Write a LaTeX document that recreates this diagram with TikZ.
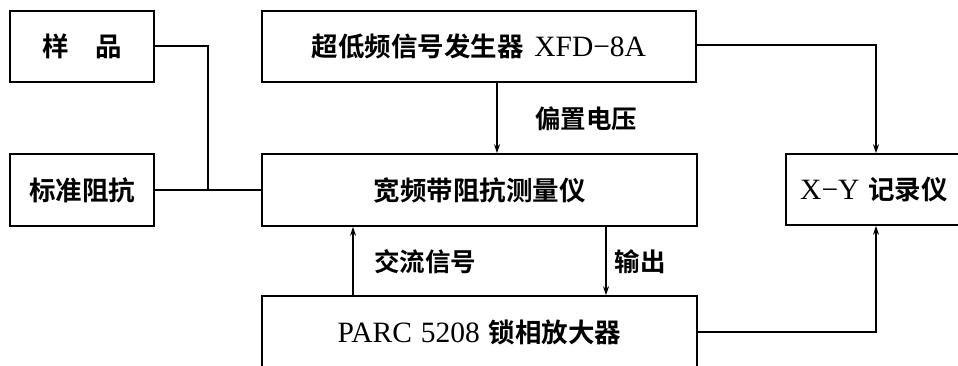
\documentclass[tikz,border=0pt]{standalone}
\usepackage{fontspec}
\setmainfont{Liberation Serif}
\newfontfamily\cjk{Noto Sans CJK SC}[BoldFont={Noto Sans CJK SC Bold}]
\newcommand{\zh}[1]{{\cjk\bfseries\fontsize{26.5}{30}\selectfont #1}}
\usetikzlibrary{arrows.meta}
\begin{document}
\begin{tikzpicture}[x=1pt,y=-1pt,
  box/.style={draw,line width=1.6pt,inner sep=0pt,align=center,font=\fontsize{29.5}{32}\selectfont},
  conn/.style={line width=1.1pt},
  arr/.style={conn,-{Stealth[length=9pt,width=6pt]}},
  lab/.style={font=\fontsize{25.5}{28}\selectfont\cjk\bfseries}]
\useasboundingbox (0,0) rectangle (958,365);
\clip (0,0) rectangle (958,365);
\fill[white] (0,0) rectangle (958,365);
\node[box,minimum width=144pt,minimum height=71pt] (sample) at (82,46.5) {\zh{样\hspace{1em}品}};
\node[box,minimum width=144pt,minimum height=72pt] (std) at (82,190) {\zh{标准阻抗}};
\node[box,minimum width=434pt,minimum height=71pt] (gen) at (479,46.5) {\zh{超低频信号发生器}\hspace{0.35em}XFD−8A};
\node[box,minimum width=435pt,minimum height=72pt] (meas) at (479.5,190) {\zh{宽频带阻抗测量仪}};
\node[box,minimum width=176pt,minimum height=71pt] (rec) at (874,189.5) {X−Y\hspace{0.3em}\zh{记录仪}};
\node[box,minimum width=435pt,minimum height=72pt] (parc) at (479.5,332) {PARC\hspace{0.3em}5208\hspace{0.3em}\zh{锁相放大器}};
\coordinate (j1) at (208,46);
\coordinate (j2) at (208,190);
\draw[conn] (sample.east |- j1) -- (j1) -- (j2);
\draw[conn] (std.east) -- (meas.west);
\draw[arr] (gen.south -| 497,0) -- (meas.north -| 497,0);
\draw[arr] (gen.east |- 0,45) -| (rec.north -| 876,0);
\draw[arr] (parc.north -| 353,0) -- (meas.south -| 353,0);
\draw[arr] (meas.south -| 606,0) -- (parc.north -| 606,0);
\draw[arr] (parc.east) -| (rec.south -| 876,0);
\node[lab] (l1) at (586,119) {偏置电压};
\node[lab] (l2) at (425,262) {交流信号};
\node[lab] (l3) at (640,262) {输出};
\end{tikzpicture}
\end{document}
